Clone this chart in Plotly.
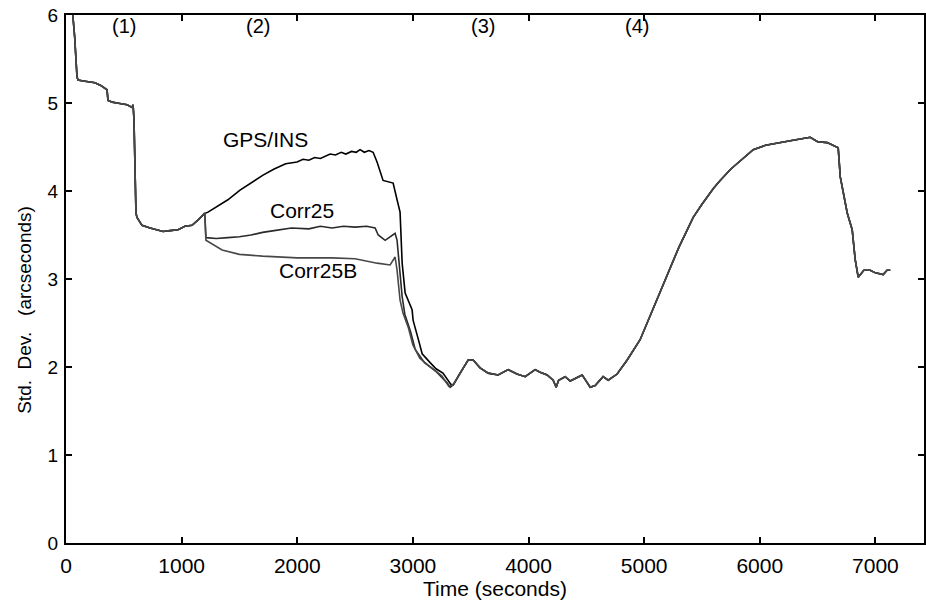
import plotly.graph_objects as go

# ---- data ----
head_t = [20, 40, 58, 75, 95, 104, 150, 200, 251, 300, 340, 355, 363, 400, 441, 500, 528, 571, 580,
          588, 597, 605, 614, 657, 727, 780, 839, 900, 969, 1029, 1090, 1150, 1194]
head_v = [6.6, 6.3, 6.0, 5.75, 5.3, 5.26, 5.25, 5.24, 5.23, 5.2, 5.17, 5.15, 5.03, 5.01, 5.0, 4.99,
          4.98, 4.95, 4.98, 4.81, 3.93, 3.75, 3.7, 3.61, 3.58, 3.56, 3.54, 3.55, 3.56, 3.6, 3.61, 3.68, 3.74]

gps_t = [1228, 1315, 1400, 1505, 1600, 1704, 1800, 1850, 1900, 1998, 2050, 2100, 2150, 2200, 2284,
         2330, 2380, 2420, 2470, 2510, 2543, 2580, 2620, 2656, 2690, 2742, 2790, 2829, 2863, 2889,
         2907, 2933, 2993, 3002, 3050, 3080, 3149, 3200, 3260, 3296, 3330]
gps_v = [3.76, 3.83, 3.9, 4.01, 4.09, 4.18, 4.25, 4.28, 4.31, 4.33, 4.36, 4.35, 4.38, 4.37, 4.42,
         4.41, 4.44, 4.42, 4.45, 4.44, 4.47, 4.44, 4.46, 4.44, 4.33, 4.12, 4.1, 4.09, 3.9, 3.76,
         3.18, 2.84, 2.65, 2.53, 2.3, 2.15, 2.05, 1.98, 1.93, 1.87, 1.8]

c25_t = [1200, 1210, 1300, 1400, 1500, 1600, 1700, 1800, 1950, 2100, 2200, 2300, 2400, 2500, 2600,
         2673, 2700, 2760, 2846, 2863, 2881, 2907, 2930, 2980, 3020, 3100, 3200, 3296, 3322]
c25_v = [3.75, 3.47, 3.46, 3.47, 3.48, 3.5, 3.53, 3.55, 3.58, 3.57, 3.6, 3.58, 3.6, 3.59, 3.6,
         3.58, 3.5, 3.44, 3.52, 3.44, 3.18, 2.8, 2.6, 2.4, 2.2, 2.05, 1.95, 1.82, 1.77]

c25b_t = [1200, 1210, 1280, 1350, 1500, 1700, 2000, 2300, 2500, 2690, 2803, 2846, 2863, 2889,
          2915, 2960, 3000, 3060, 3150, 3250, 3310]
c25b_v = [3.75, 3.44, 3.38, 3.33, 3.28, 3.26, 3.24, 3.24, 3.23, 3.18, 3.16, 3.25, 3.1, 2.76,
          2.61, 2.45, 2.25, 2.1, 2.0, 1.9, 1.78]

tail_t = [3350, 3408, 3478, 3521, 3581, 3651, 3737, 3824, 3900, 3971, 4057, 4100, 4161, 4213, 4239,
          4260, 4317, 4360, 4464, 4533, 4576, 4645, 4689, 4766, 4853, 4965, 5078, 5150, 5225, 5300,
          5424, 5500, 5600, 5657, 5750, 5850, 5943, 6050, 6203, 6300, 6436, 6500, 6583, 6678, 6696,
          6756, 6799, 6825, 6851, 6900, 6955, 7000, 7067, 7100, 7128]
tail_v = [1.8, 1.93, 2.08, 2.08, 1.99, 1.93, 1.91, 1.97, 1.92, 1.89, 1.97, 1.94, 1.91, 1.85, 1.77,
          1.85, 1.89, 1.84, 1.91, 1.77, 1.79, 1.89, 1.85, 1.92, 2.08, 2.31, 2.67, 2.88, 3.13, 3.36,
          3.7, 3.85, 4.03, 4.12, 4.25, 4.37, 4.47, 4.52, 4.56, 4.58, 4.61, 4.56, 4.55, 4.49, 4.16,
          3.75, 3.56, 3.22, 3.02, 3.1, 3.1, 3.07, 3.05, 3.1, 3.1]

phase_labels = ["(1)", "(2)", "(3)", "(4)"]
phase_x = [502, 1661, 3607, 4939]
phase_y = 5.875

curve_names = ["GPS/INS", "Corr25", "Corr25B"]
curve_label_x = [1721, 2041, 2180]
curve_label_y = [4.58, 3.78, 3.10]

x_ticks = [0, 1000, 2000, 3000, 4000, 5000, 6000, 7000]
y_ticks = [0, 1, 2, 3, 4, 5, 6]

FONT = "Arial, 'Liberation Sans', sans-serif"
NB = "\u00a0"

fig = go.Figure()
series = [
    (gps_t, gps_v, "#000000"),
    (c25_t, c25_v, "#2a2a2a"),
    (c25b_t, c25b_v, "#484848"),
]
for (mt, mv, col), name in zip(series, curve_names):
    fig.add_trace(go.Scatter(x=head_t + mt + tail_t, y=head_v + mv + tail_v, mode="lines",
                             name=name, line=dict(color=col, width=1.6), showlegend=False))

for lab, px in zip(phase_labels, phase_x):
    fig.add_annotation(x=px, y=phase_y, text=lab, showarrow=False,
                       font=dict(family=FONT, size=20, color="black"))
for lab, px, py in zip(curve_names, curve_label_x, curve_label_y):
    fig.add_annotation(x=px, y=py, text=lab, showarrow=False,
                       font=dict(family=FONT, size=21, color="black"))

# y axis title as a rotated annotation
fig.add_annotation(xref="paper", x=0, xshift=-41, xanchor="center", yref="y", y=2.65,
                   yanchor="middle", textangle=-90,
                   text="Std." + NB * 2 + "Dev." + NB * 3 + "(arcseconds)", showarrow=False,
                   font=dict(family=FONT, size=19, color="black"))

axis_common = dict(showgrid=False, zeroline=False, showline=True, linecolor="black", linewidth=2,
                   mirror="ticks", ticks="inside", ticklen=6, tickwidth=1.5, tickcolor="black",
                   ticklabeloverflow="allow")
fig.update_xaxes(range=[0, 7420], tickvals=x_ticks, ticktext=[str(v) for v in x_ticks],
                 tickfont=dict(family=FONT, size=21, color="black"), ticklabelstandoff=3,
                 title=dict(text="Time (seconds)", font=dict(family=FONT, size=21, color="black"),
                            standoff=0), **axis_common)
fig.update_yaxes(range=[0, 6], tickvals=y_ticks, ticktext=[str(v) for v in y_ticks],
                 tickfont=dict(family=FONT, size=19, color="black"), ticklabelstandoff=2,
                 **axis_common)
fig.update_layout(width=926, height=603, margin=dict(l=66, r=2, t=15, b=60, autoexpand=False),
                  plot_bgcolor="white", paper_bgcolor="white")
fig.write_html("out.html", config={"displayModeBar": False},
               post_script="document.body.style.margin='0';document.body.style.overflow='hidden';")
